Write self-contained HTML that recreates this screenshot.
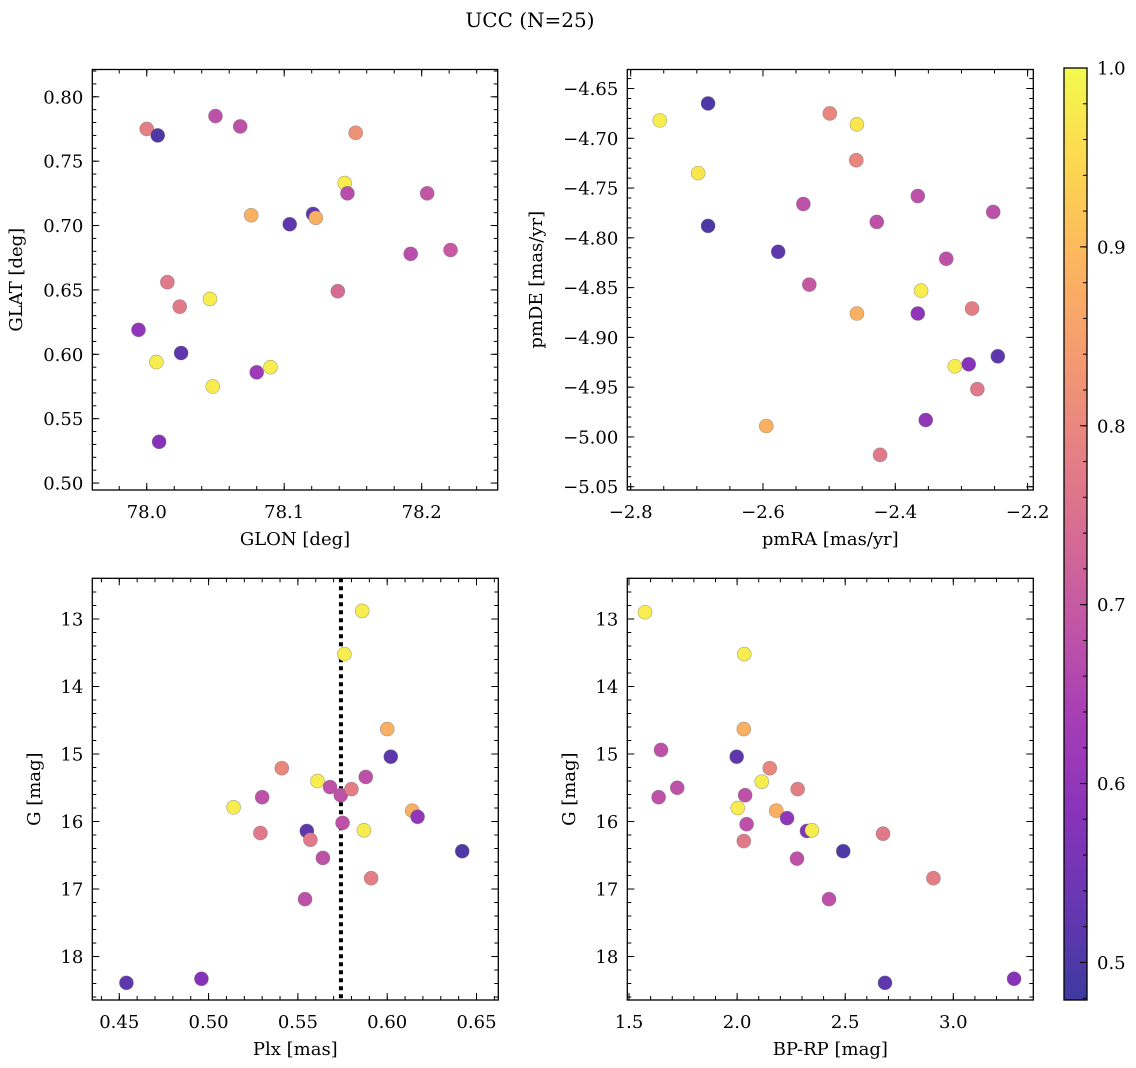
<!DOCTYPE html>
<html><head><meta charset="utf-8"><style>
html,body{margin:0;padding:0;background:#fff;}
svg{display:block;font-family:"DejaVu Serif","Liberation Serif",serif;}
</style></head><body>
<svg id="fig" width="1136" height="1068" viewBox="0 0 1136 1068" xmlns="http://www.w3.org/2000/svg">
<text x="530" y="27" font-size="20" text-anchor="middle">UCC (N=25)</text>
</svg>
<script>
// ---------- data ----------
const glon = [78.000,78.008,78.050,78.068,78.152,78.144,78.146,78.204,78.076,78.104,78.121,78.123,78.192,78.221,78.015,78.024,78.046,78.139,77.994,78.025,78.007,78.048,78.090,78.080,78.009];
const glat = [0.775,0.770,0.785,0.777,0.772,0.733,0.725,0.725,0.708,0.701,0.709,0.706,0.678,0.681,0.656,0.637,0.643,0.649,0.619,0.601,0.594,0.575,0.590,0.586,0.532];
const probA = [0.78,0.50,0.68,0.68,0.82,0.98,0.67,0.69,0.88,0.52,0.52,0.88,0.67,0.70,0.77,0.77,0.98,0.74,0.60,0.52,0.98,0.98,0.98,0.62,0.58];

const pmra = [-2.756,-2.683,-2.499,-2.458,-2.459,-2.698,-2.539,-2.366,-2.428,-2.252,-2.683,-2.577,-2.323,-2.530,-2.361,-2.458,-2.366,-2.284,-2.245,-2.289,-2.310,-2.276,-2.354,-2.595,-2.423];
const pmde = [-4.682,-4.665,-4.675,-4.686,-4.722,-4.735,-4.766,-4.758,-4.784,-4.774,-4.788,-4.814,-4.821,-4.847,-4.853,-4.876,-4.876,-4.871,-4.919,-4.927,-4.929,-4.952,-4.983,-4.989,-5.018];
const probB = [0.98,0.50,0.80,0.97,0.80,0.97,0.68,0.68,0.68,0.68,0.50,0.52,0.68,0.70,0.98,0.88,0.60,0.78,0.52,0.58,0.98,0.77,0.60,0.88,0.77];

const plx = [0.586,0.576,0.600,0.588,0.602,0.541,0.561,0.568,0.574,0.580,0.514,0.530,0.614,0.617,0.575,0.555,0.587,0.529,0.557,0.564,0.642,0.591,0.554,0.496,0.454];
const gmagC = [12.88,13.52,14.63,15.34,15.04,15.21,15.40,15.49,15.61,15.52,15.79,15.64,15.84,15.93,16.02,16.14,16.13,16.17,16.27,16.54,16.44,16.84,17.15,18.33,18.39];
const probC = [0.98,0.98,0.88,0.68,0.52,0.80,0.98,0.68,0.68,0.78,0.98,0.68,0.88,0.60,0.68,0.52,0.98,0.77,0.77,0.68,0.50,0.78,0.68,0.58,0.52];
const plxMean = [0.5741];

const bprp = [1.574,2.033,2.031,1.648,1.998,2.151,2.114,1.723,2.280,1.637,2.037,2.003,2.181,2.231,2.044,2.323,2.346,2.031,2.675,2.277,2.491,2.908,2.425,3.281,2.684];
const gmagD = [12.90,13.52,14.63,14.94,15.04,15.21,15.41,15.50,15.52,15.64,15.61,15.80,15.84,15.95,16.04,16.14,16.13,16.29,16.18,16.55,16.44,16.84,17.15,18.33,18.39];
const probD = [0.98,0.98,0.88,0.68,0.52,0.80,0.98,0.68,0.78,0.68,0.68,0.98,0.88,0.60,0.68,0.58,0.98,0.77,0.77,0.68,0.50,0.78,0.68,0.58,0.52];

const cbTicks = [0.5,0.6,0.7,0.8,0.9,1.0];

// ---------- helpers ----------
const NS='http://www.w3.org/2000/svg';
const svg=document.getElementById('fig');
const FS=18;
function mk(tag,attrs,parent){const e=document.createElementNS(NS,tag);for(const k in attrs)e.setAttribute(k,attrs[k]);(parent||svg).appendChild(e);return e;}
const stops=[[13,8,135],[65,4,157],[106,0,168],[143,13,164],[177,42,144],[204,71,120],[225,100,98],[242,132,75],[252,166,54],[252,206,37],[240,249,33]];
const VMIN=0.479,VMAX=1.0;
function plasma(t){t=Math.max(0,Math.min(1,t));const p=t*10,i=Math.min(9,Math.floor(p)),f=p-i;const a=stops[i],b=stops[i+1];
 const c=a.map((v,k)=>v+(b[k]-v)*f).map(v=>Math.round(0.8*v+0.2*255));return `rgb(${c[0]},${c[1]},${c[2]})`;}
function col(v){return plasma((v-VMIN)/(VMAX-VMIN));}
function fmt(v,d){let s=v.toFixed(d);return s.replace('-','\u2212');}

function panel(o){
 const g=mk('g',{});
 
 
 const sx=v=>o.x0+(v-o.xd[0])/(o.xd[1]-o.xd[0])*(o.x1-o.x0);
 const sy=v=>o.yinv? o.y0+(v-o.yd[0])/(o.yd[1]-o.yd[0])*(o.y1-o.y0) : o.y1-(v-o.yd[0])/(o.yd[1]-o.yd[0])*(o.y1-o.y0);
 const tg=mk('g',{stroke:'#000','stroke-width':1},g);
 function xt(v,len){const X=sx(v);if(X<o.x0-0.5||X>o.x1+0.5)return;mk('line',{x1:X,x2:X,y1:o.y1,y2:o.y1-len},tg);mk('line',{x1:X,x2:X,y1:o.y0,y2:o.y0+len},tg);}
 function yt(v,len){const Y=sy(v);if(Y<o.y0-0.5||Y>o.y1+0.5)return;mk('line',{x1:o.x0,x2:o.x0+len,y1:Y,y2:Y},tg);mk('line',{x1:o.x1,x2:o.x1-len,y1:Y,y2:Y},tg);}
 const lo=Math.min(...o.xd),hi=Math.max(...o.xd);
 for(let v=Math.ceil(lo/o.xm-1e-6)*o.xm;v<=hi+1e-9;v+=o.xm)xt(v,4);
 const ylo=Math.min(...o.yd),yhi=Math.max(...o.yd);
 for(let v=Math.ceil(ylo/o.ym-1e-6)*o.ym;v<=yhi+1e-9;v+=o.ym)yt(v,4);
 o.xticks.forEach(v=>{xt(v,7);const t=mk('text',{x:sx(v),y:o.y1+28,'font-size':FS,'text-anchor':'middle'},g);t.textContent=fmt(v,o.xdec);
  
  });
 o.yticks.forEach(v=>{yt(v,7);const t=mk('text',{x:o.x0-9,y:sy(v)+6.5,'font-size':FS,'text-anchor':'end'},g);t.textContent=fmt(v,o.ydec);
  
  });
 if(o.vline){o.vline.forEach(v=>{const l=mk('line',{x1:sx(v),x2:sx(v),y1:o.y0,y2:o.y1,stroke:'#000','stroke-width':4,'stroke-dasharray':'4,4'},g);
  
  });}
 o.xs.forEach((xv,i)=>{const c=mk('circle',{cx:sx(xv),cy:sy(o.ys[i]),r:7,fill:col(o.cs[i]),stroke:'rgba(110,110,110,0.6)','stroke-width':0.6},g);
  
  });
 const fr=mk('rect',{x:o.x0,y:o.y0,width:o.x1-o.x0,height:o.y1-o.y0,fill:'none',stroke:'#000','stroke-width':1.3},g);
 
 
 const xl=mk('text',{x:(o.x0+o.x1)/2,y:o.y1+55,'font-size':FS,'text-anchor':'middle'},g);xl.textContent=o.xlabel;
 
 
 const cy=(o.y0+o.y1)/2;
 const yl=mk('text',{x:o.ylx,y:cy,'font-size':FS,'text-anchor':'middle',transform:`rotate(-90 ${o.ylx} ${cy})`},g);yl.textContent=o.ylabel;
 
 
}

panel({name:'glon-glat-panel',x0:92.3,x1:497.7,y0:69.5,y1:490,xd:[77.9604,78.2553],yd:[0.4946,0.8212],xm:0.02,ym:0.01,
 xticks:[78.0,78.1,78.2],xdec:1,yticks:[0.50,0.55,0.60,0.65,0.70,0.75,0.80],ydec:2,xs:glon,ys:glat,cs:probA,xlabel:'GLON [deg]',ylabel:'GLAT [deg]',ylx:22});
panel({name:'pm-panel',x0:627.3,x1:1033.3,y0:69.5,y1:490,xd:[-2.8051,-2.1914],yd:[-5.0533,-4.6309],xm:0.05,ym:0.01,
 xticks:[-2.8,-2.6,-2.4,-2.2],xdec:1,yticks:[-5.05,-5.00,-4.95,-4.90,-4.85,-4.80,-4.75,-4.70,-4.65],ydec:2,xs:pmra,ys:pmde,cs:probB,xlabel:'pmRA [mas/yr]',ylabel:'pmDE [mas/yr]',ylx:542});
panel({name:'plx-g-panel',x0:92.3,x1:498.3,y0:578.3,y1:1000,xd:[0.4349,0.6622],yd:[12.397,18.644],yinv:true,xm:0.01,ym:0.2,
 xticks:[0.45,0.50,0.55,0.60,0.65],xdec:2,yticks:[13,14,15,16,17,18],ydec:0,xs:plx,ys:gmagC,cs:probC,vline:plxMean,xlabel:'Plx [mas]',ylabel:'G [mag]',ylx:40});
panel({name:'cmd-panel',x0:627.3,x1:1033.3,y0:578.3,y1:1000,xd:[1.4921,3.370],yd:[12.397,18.644],yinv:true,xm:0.1,ym:0.2,
 xticks:[1.5,2.0,2.5,3.0],xdec:1,yticks:[13,14,15,16,17,18],ydec:0,xs:bprp,ys:gmagD,cs:probD,xlabel:'BP-RP [mag]',ylabel:'G [mag]',ylx:575});

// colorbar
const cb=mk('g',{});


const defs=mk('defs',{});
const lg=mk('linearGradient',{id:'cbg',x1:0,y1:1,x2:0,y2:0},defs);
for(let i=0;i<=20;i++){mk('stop',{offset:i/20,'stop-color':plasma(i/20)},lg);}
const CB={x0:1064,x1:1087,y0:68,y1:1000};
const cyv=v=>CB.y1-(v-VMIN)/(VMAX-VMIN)*(CB.y1-CB.y0);
mk('rect',{x:CB.x0,y:CB.y0,width:CB.x1-CB.x0,height:CB.y1-CB.y0,fill:'url(#cbg)'},cb);
for(let v=0.48;v<=1.0001;v+=0.02){mk('line',{x1:CB.x1,x2:CB.x1-4,y1:cyv(v),y2:cyv(v),stroke:'#000','stroke-width':1},cb);}
cbTicks.forEach(v=>{mk('line',{x1:CB.x1,x2:CB.x1-7,y1:cyv(v),y2:cyv(v),stroke:'#000','stroke-width':1},cb);
 const t=mk('text',{x:CB.x1+10,y:cyv(v)+6.5,'font-size':FS},cb);t.textContent=v.toFixed(1);
 
 });
mk('rect',{x:CB.x0,y:CB.y0,width:CB.x1-CB.x0,height:CB.y1-CB.y0,fill:'none',stroke:'#000','stroke-width':1.3},cb);
</script>
</body></html>
